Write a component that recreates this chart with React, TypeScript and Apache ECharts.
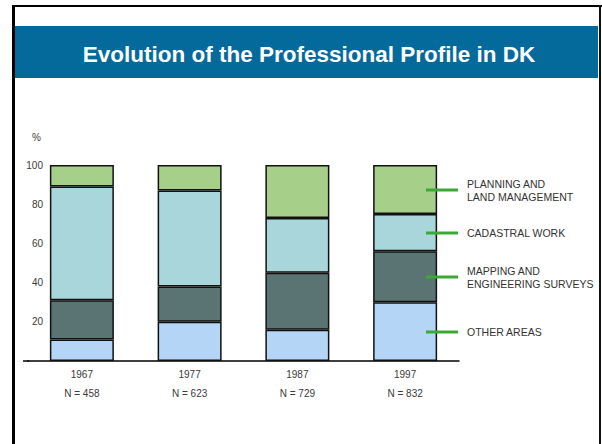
import React, { useEffect, useRef } from "react";
import * as echarts from "echarts";

const titleText = "Evolution of the Professional Profile in DK";
const years = ["1967", "1977", "1987", "1997"];
const counts = [458, 623, 729, 832];
const seriesNames = [
  "OTHER AREAS",
  "MAPPING AND\nENGINEERING SURVEYS",
  "CADASTRAL WORK",
  "PLANNING AND\nLAND MANAGEMENT",
];
const otherAreas = [11, 20, 16, 30];
const mappingSurveys = [20, 18, 29, 26];
const cadastralWork = [58, 49, 28, 19];
const planningLand = [11, 13, 27, 25];
const seriesColors = ["#b4d5f6", "#5a7474", "#a9d6da", "#a6d08a"];

const FONT = "Liberation Sans, Arial, sans-serif";

export default function App() {
  const ref = useRef<HTMLDivElement>(null);
  useEffect(() => {
    if (!ref.current) return;
    const chart = echarts.init(ref.current, null, { renderer: "svg" });
    const allData = [otherAreas, mappingSurveys, cadastralWork, planningLand];
    chart.setOption({
      animation: false,
      backgroundColor: "#ffffff",
      grid: { left: 28, right: 143, top: 165, bottom: 83 },
      xAxis: {
        type: "category",
        data: years,
        axisLine: { lineStyle: { color: "#000", width: 1.5 } },
        axisTick: { show: false },
        axisLabel: {
          margin: 4,
          fontFamily: FONT,
          fontSize: 10,
          color: "#3a3a3a",
          lineHeight: 19,
          formatter: (v: string, i: number) => `${v}\nN = ${counts[i]}`,
        },
      },
      yAxis: {
        type: "value",
        min: 0,
        max: 100,
        interval: 20,
        offset: -18,
        axisLine: { show: false },
        axisTick: { show: false },
        splitLine: { show: false },
        axisLabel: {
          margin: 3,
          fontFamily: FONT,
          fontSize: 10,
          color: "#3a3a3a",
          formatter: (v: number) => (v === 0 ? "" : String(v)),
        },
      },
      series: allData.map((d, i) => ({
        type: "bar",
        name: seriesNames[i],
        stack: "total",
        data: d,
        barWidth: 64,
        itemStyle: { color: seriesColors[i], borderColor: "#111", borderWidth: 1.5 },
      })),
    });

    const last = years.length - 1;
    let cum = 0;
    const legendEls: any[] = [];
    allData.forEach((d, i) => {
      const mid = cum + d[last] / 2;
      cum += d[last];
      const p = chart.convertToPixel({ xAxisIndex: 0, yAxisIndex: 0 }, [last, mid]) as number[];
      const y = Math.round(p[1]);
      legendEls.push({
        type: "line",
        shape: { x1: 426, y1: y, x2: 458, y2: y },
        style: { stroke: "#3aa935", lineWidth: 3 },
        z: 10,
      });
      legendEls.push({
        type: "text",
        x: 467,
        y: y,
        style: {
          text: seriesNames[i],
          fontFamily: FONT,
          fontSize: 10.5,
          fill: "#333",
          lineHeight: 13,
          verticalAlign: "middle",
          align: "left",
        },
        z: 10,
      });
    });

    chart.setOption({
      graphic: [
        { type: "rect", shape: { x: 15, y: 26, width: 583, height: 52 }, style: { fill: "#046a9c" } },
        {
          type: "text",
          x: 309,
          y: 54,
          style: {
            text: titleText,
            fontFamily: FONT,
            fontSize: 22.5,
            fontWeight: "bold",
            fill: "#ffffff",
            align: "center",
            verticalAlign: "middle",
          },
        },
        { type: "rect", shape: { x: 12, y: 5, width: 3, height: 439 }, style: { fill: "#000" } },
        { type: "rect", shape: { x: 12, y: 5, width: 590, height: 2 }, style: { fill: "#000" } },
        { type: "rect", shape: { x: 599, y: 5, width: 2, height: 439 }, style: { fill: "#111" } },
        {
          type: "line",
          shape: { x1: 23, y1: 361, x2: 29, y2: 361 },
          style: { stroke: "#000", lineWidth: 1.5 },
        },
        {
          type: "text",
          x: 36.5,
          y: 137.5,
          style: {
            text: "%",
            fontFamily: FONT,
            fontSize: 10,
            fill: "#3a3a3a",
            align: "center",
            verticalAlign: "middle",
          },
        },
        ...legendEls,
      ],
    });
    return () => chart.dispose();
  }, []);
  return (
    <div
      ref={ref}
      style={{ position: "fixed", left: 0, top: 0, width: 602, height: 444 }}
    />
  );
}
